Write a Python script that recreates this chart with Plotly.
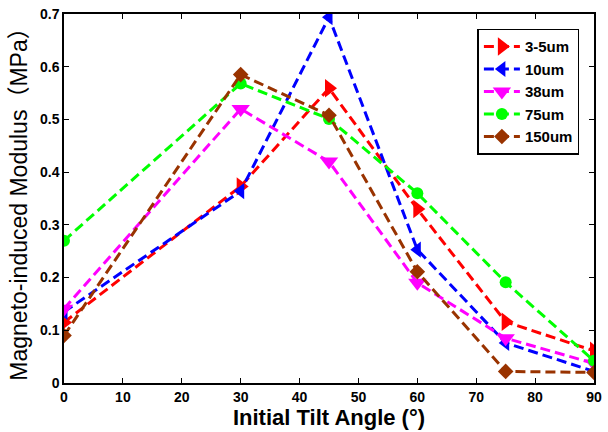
import plotly.graph_objects as go

angles = [0, 30, 45, 60, 75, 90]
names = ["3-5um", "10um", "38um", "75um", "150um"]
v_3_5 = [0.115, 0.373, 0.559, 0.330, 0.116, 0.061]
v_10 = [0.135, 0.364, 0.694, 0.253, 0.076, 0.022]
v_38 = [0.141, 0.520, 0.420, 0.190, 0.085, 0.037]
v_75 = [0.270, 0.568, 0.501, 0.360, 0.191, 0.042]
v_150 = [0.090, 0.585, 0.508, 0.211, 0.022, 0.020]
series = [v_3_5, v_10, v_38, v_75, v_150]
colors = ["#FF0000", "#0000FF", "#FF00FF", "#00FF00", "#993300"]
symbols = ["triangle-right", "triangle-left", "triangle-down", "circle", "diamond"]
sizes = [16, 14, 16, 12, 12]
x_ticks = [0, 10, 20, 30, 40, 50, 60, 70, 80, 90]
y_ticks = [0, 0.1, 0.2, 0.3, 0.4, 0.5, 0.6, 0.7]

fig = go.Figure()
for n, vals, c, s, sz in zip(names, series, colors, symbols, sizes):
    fig.add_trace(go.Scatter(
        x=angles, y=vals, name=n, mode="lines+markers",
        line=dict(color=c, width=3, dash="10px,5px"),
        marker=dict(color=c, symbol=s, size=sz, line=dict(width=0)),
    ))

axis_common = dict(
    showline=True, linecolor="black", linewidth=1.5, mirror="ticks",
    ticks="inside", ticklen=5, tickcolor="black", showgrid=False, zeroline=False,
    tickfont=dict(family="Liberation Sans, Arial", size=14, color="black", weight="bold"),
)
fig.update_xaxes(range=[0, 90], tickvals=x_ticks,
                 title=dict(text="<b>Initial Tilt Angle (°)</b>",
                            font=dict(family="Liberation Sans, Arial", size=22, color="black"),
                            standoff=4),
                 **axis_common)
fig.update_yaxes(range=[0, 0.7], tickvals=y_ticks, ticktext=["0", "0.1", "0.2", "0.3", "0.4", "0.5", "0.6", "0.7"],
                 title=dict(text="Magneto-induced Modulus（MPa）",
                            font=dict(family="Liberation Sans, Noto Sans CJK SC", size=23, color="black"),
                            standoff=6),
                 **axis_common)
fig.update_layout(
    width=608, height=432,
    margin=dict(l=64, r=6, t=11, b=49),
    paper_bgcolor="white", plot_bgcolor="white",
    showlegend=True,
    legend=dict(x=0.78, y=0.96, xanchor="left", yanchor="top",
                bgcolor="white", bordercolor="black", borderwidth=1.5,
                font=dict(family="Liberation Sans, Arial", size=15, color="black", weight="bold"),
                itemwidth=36, tracegroupgap=0),
)
fig.write_html("out.html", config={"displayModeBar": False},
               post_script="document.body.style.margin='0';document.body.style.overflow='hidden';")
